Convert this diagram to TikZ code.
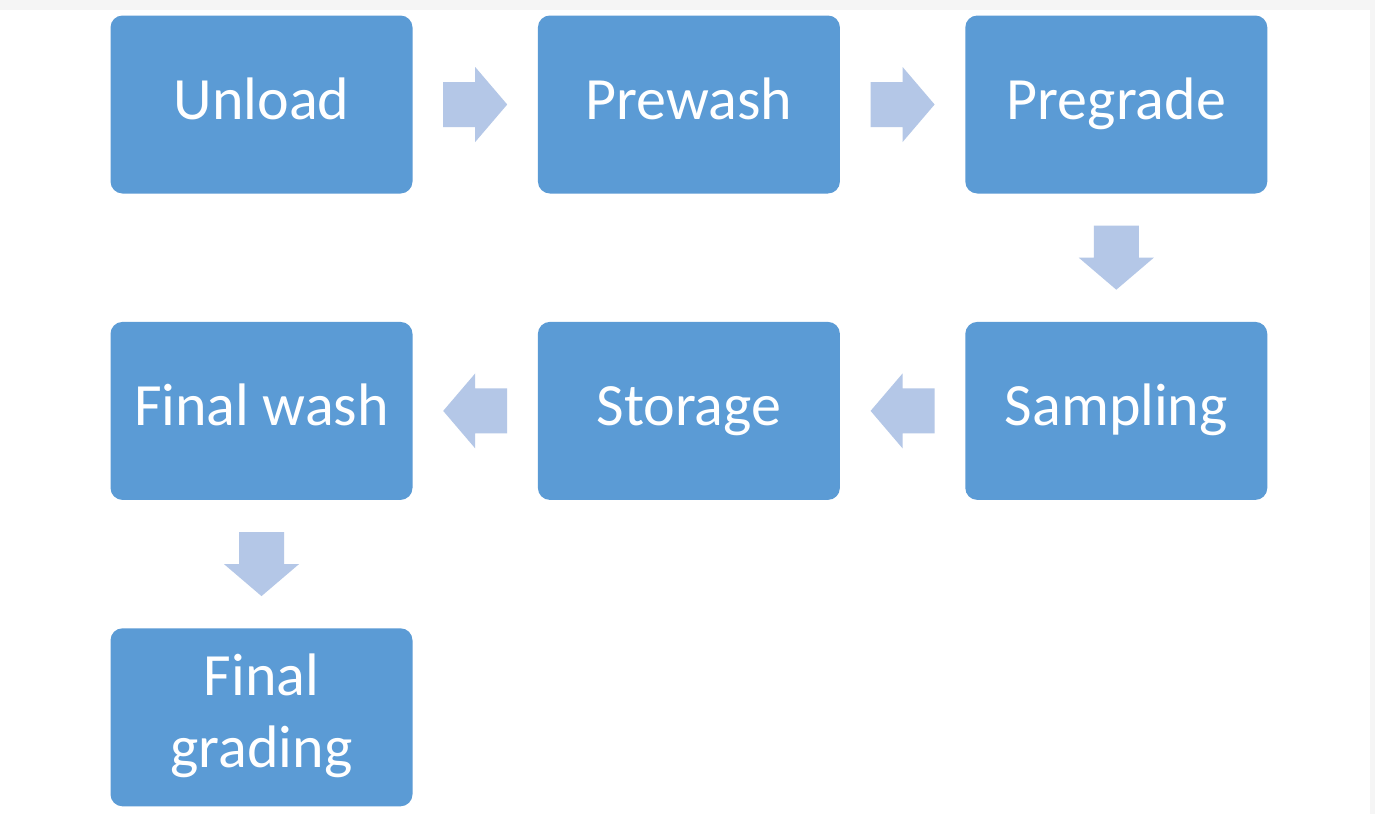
\documentclass[tikz,border=0pt]{standalone}
\usepackage{fontspec}
\setmainfont{Carlito}
\usetikzlibrary{calc,positioning}
\definecolor{StepBlue}{HTML}{5B9BD5}
\definecolor{ArrowBlue}{HTML}{B4C7E7}
\definecolor{EdgeGray}{HTML}{F5F5F5}
\newcommand{\stepstrut}{\rule[-14pt]{0pt}{58pt}}

\tikzset{
  stepbox/.style={fill=StepBlue,rounded corners=12pt,minimum width=302pt,
    minimum height=178pt,inner sep=0pt,text=white,align=center,
    font=\fontsize{60}{72}\selectfont,
    execute at begin node=\stepstrut,execute at end node=\stepstrut},
  blockarrow/.pic={\fill[ArrowBlue] (-32,-22.5) -- (0,-22.5) -- (0,-37.5)
    -- (32,0) -- (0,37.5) -- (0,22.5) -- (-32,22.5) -- cycle;}
}

\begin{document}
\begin{tikzpicture}[x=1pt,y=-1pt,node distance=128pt and 125pt]
      \useasboundingbox (0,0) rectangle (1375,814);
      \fill[EdgeGray] (0,0) rectangle (1375,814);
      \fill[white] (0,10) rectangle (1370,814);
      \node[stepbox] (unload) at (261.5,104.5) {Unload};
      \node[stepbox,right=of unload] (prewash) {Prewash};
      \node[stepbox,right=of prewash] (pregrade) {Pregrade};
      \node[stepbox,below=of pregrade] (sampling) {Sampling};
      \node[stepbox,left=of sampling] (storage) {Storage};
      \node[stepbox,left=of storage] (finalwash) {Final wash};
      \node[stepbox,below=of finalwash] (finalgrading) {Final\\grading};
      \pic at ($(unload.east)!0.5!(prewash.west)$) {blockarrow};
      \pic at ($(prewash.east)!0.5!(pregrade.west)$) {blockarrow};
      \pic[rotate=-90] at ($(pregrade.south)!0.5!(sampling.north)$) {blockarrow};
      \pic[rotate=180] at ($(sampling.west)!0.5!(storage.east)$) {blockarrow};
      \pic[rotate=180] at ($(storage.west)!0.5!(finalwash.east)$) {blockarrow};
      \pic[rotate=-90] at ($(finalwash.south)!0.5!(finalgrading.north)$) {blockarrow};
    \end{tikzpicture}
\end{document}
